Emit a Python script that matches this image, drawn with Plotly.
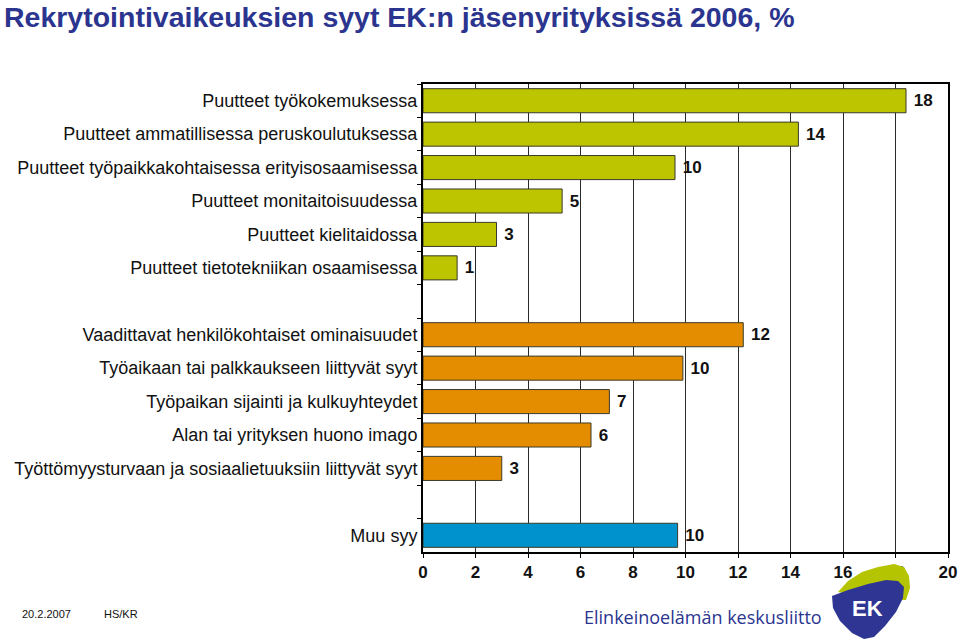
import plotly.graph_objects as go

# ---- data ----
green_labels = [
    "Puutteet työkokemuksessa",
    "Puutteet ammatillisessa peruskoulutuksessa",
    "Puutteet työpaikkakohtaisessa erityisosaamisessa",
    "Puutteet monitaitoisuudessa",
    "Puutteet kielitaidossa",
    "Puutteet tietotekniikan osaamisessa",
]
green_values = [18.4, 14.3, 9.6, 5.3, 2.8, 1.3]

orange_labels = [
    "Vaadittavat henkilökohtaiset ominaisuudet",
    "Työaikaan tai palkkaukseen liittyvät syyt",
    "Työpaikan sijainti ja kulkuyhteydet",
    "Alan tai yrityksen huono imago",
    "Työttömyysturvaan ja sosiaalietuuksiin liittyvät syyt",
]
orange_values = [12.2, 9.9, 7.1, 6.4, 3.0]

blue_labels = ["Muu syy"]
blue_values = [9.7]

spacers = [" ", "  "]
x_ticks = [0, 2, 4, 6, 8, 10, 12, 14, 16, 18, 20]

title_text = "Rekrytointivaikeuksien syyt EK:n jäsenyrityksissä 2006, %"

# ---- layout geometry ----
W, H = 960, 639
L, R, T, B = 423, 12, 84, 87
PW, PH = W - L - R, H - T - B


def px(xp):
    return (xp - L) / PW


def py(yp):
    return (H - B - yp) / PH


GREEN = "#BDC400"
ORANGE = "#E48D00"
BLUE = "#0092CC"
NAVY = "#2B358F"
FONT = "Arial, Liberation Sans, sans-serif"

category_order = green_labels + [spacers[0]] + orange_labels + [spacers[1]] + blue_labels

fig = go.Figure()


def add_bars(labels, values, color):
    fig.add_trace(go.Bar(
        x=values, y=labels, orientation="h",
        marker=dict(color=color, line=dict(color="#3a3a2a", width=1)),
        text=values, texttemplate="<b> %{x:.0f}</b>", textposition="outside",
        textfont=dict(family=FONT, size=17, color="#111111"),
        cliponaxis=False, showlegend=False, hoverinfo="x+y",
    ))


add_bars(green_labels, green_values, GREEN)
add_bars(orange_labels, orange_values, ORANGE)
add_bars(blue_labels, blue_values, BLUE)
# invisible trace registering the empty spacer rows
fig.add_trace(go.Bar(x=[0, 0], y=spacers, orientation="h",
                     marker=dict(color="rgba(0,0,0,0)", line=dict(width=0)),
                     showlegend=False, hoverinfo="skip"))

fig.update_layout(
    width=W, height=H,
    margin=dict(l=L, r=R, t=T, b=B, autoexpand=False),
    paper_bgcolor="white", plot_bgcolor="white",
    barmode="overlay", bargap=0.28,
    font=dict(family=FONT, color="#111111"),
    title=dict(text="<b>" + title_text + "</b>", x=4 / W, xanchor="left",
               y=1 - 17 / H, yanchor="middle",
               font=dict(family=FONT, size=28.5, color=NAVY)),
    xaxis=dict(range=[0, 20], tickvals=x_ticks, ticktext=["<b>%d</b>" % v for v in x_ticks],
               showgrid=True, gridcolor="#2a2a2a", gridwidth=1,
               showline=True, linecolor="#000000", linewidth=2, mirror=True,
               ticks="outside", ticklen=4, tickcolor="#000000",
               tickfont=dict(family=FONT, size=17, color="#111111"),
               zeroline=False, fixedrange=True, automargin=False),
    yaxis=dict(type="category", categoryorder="array", categoryarray=category_order,
               autorange="reversed",
               showline=True, linecolor="#000000", linewidth=2, mirror=True,
               ticks="outside", ticklen=4, tickcolor="#000000", tickson="boundaries",
               showgrid=False,
               tickfont=dict(family=FONT, size=18, color="#111111"),
               fixedrange=True, automargin=False),
)


def note(xp, yp, text, font):
    fig.add_annotation(x=px(xp), y=py(yp), xref="paper", yref="paper", text=text,
                       xanchor="center", yanchor="middle", showarrow=False, font=font)


# footer texts
note(46, 614, "20.2.2007", dict(family=FONT, size=11, color="#111111"))
note(121, 614, "HS/KR", dict(family=FONT, size=11, color="#111111"))
note(703, 617, "Elinkeinoelämän keskusliitto",
     dict(family="Open Sans, sans-serif", size=18, color=NAVY))


def path(points):
    s = "M %f,%f " % (px(points[0][0]), py(points[0][1]))
    for (a, b) in points[1:]:
        s += "L %f,%f " % (px(a), py(b))
    return s + "Z"


# EK logo (decorative)
lime_pts = [(838, 592), (848, 581), (862, 572), (878, 567), (894, 564), (904, 567),
            (909, 576), (910, 588), (906, 600), (880, 600)]
navy_pts = [(832, 596), (848, 590), (868, 584), (886, 580), (898, 581), (904, 587),
            (903, 598), (896, 612), (885, 626), (874, 637), (864, 639), (852, 633),
            (840, 621), (833, 608)]
fig.add_shape(type="path", xref="paper", yref="paper", path=path(lime_pts),
              fillcolor="#B5C400", line=dict(width=0), layer="above")
fig.add_shape(type="path", xref="paper", yref="paper", path=path(navy_pts),
              fillcolor="#2E3592", line=dict(width=0), layer="above")
note(867, 608, "<b>EK</b>", dict(family=FONT, size=22, color="white"))

fig.write_html("out.html")
